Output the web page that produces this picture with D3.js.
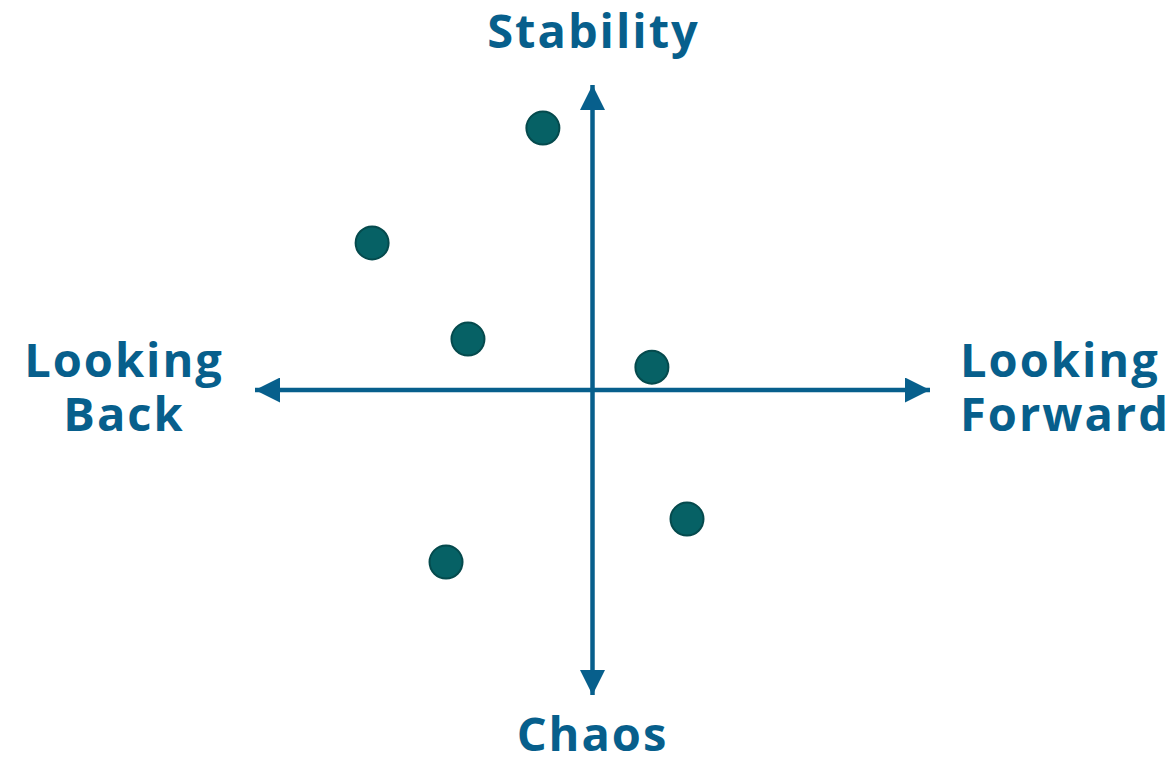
<!DOCTYPE html>
<html>
<head>
<meta charset="utf-8">
<script src="https://cdn.jsdelivr.net/npm/d3@7"></script>
<style>
  body { margin: 0; background: #fff; }
  svg text { font-family: "Open Sans", "Noto Sans", sans-serif; font-weight: 700; fill: #075f8c; letter-spacing: 2px; }
</style>
</head>
<body>
<script>
// point positions on the two axes, -1..1
const xVals = [-0.147, -0.653, -0.369, 0.176, 0.28, -0.434];
const yVals = [0.859, 0.482, 0.167, 0.075, -0.423, -0.564];

// axis end labels
const topLabel = "Stability";
const bottomLabel = "Chaos";
const leftLabel = ["Looking", "Back"];
const rightLabel = ["Looking", "Forward"];

const width = 1175, height = 758;
const axisColor = "#075f8c";

const svg = d3.select("body").append("svg")
    .attr("width", width)
    .attr("height", height);

// scales, center sits at the axes crossing
const x = d3.scaleLinear().domain([-1, 1]).range([255, 930]);
const y = d3.scaleLinear().domain([-1, 1]).range([695, 85]);

// arrowhead
svg.append("defs").append("marker")
    .attr("id", "arrow")
    .attr("viewBox", "0 0 10 10")
    .attr("refX", 10)
    .attr("refY", 5)
    .attr("markerUnits", "userSpaceOnUse")
    .attr("markerWidth", 31)
    .attr("markerHeight", 25)
    .attr("orient", "auto-start-reverse")
  .append("path")
    .attr("d", "M0,0 L10,5 L0,10 Z")
    .attr("fill", axisColor);

// horizontal axis
svg.append("line")
    .attr("x1", x(-1)).attr("x2", x(1))
    .attr("y1", y(0)).attr("y2", y(0))
    .attr("stroke", axisColor)
    .attr("stroke-width", 4.5)
    .attr("marker-start", "url(#arrow)")
    .attr("marker-end", "url(#arrow)");

// vertical axis
svg.append("line")
    .attr("x1", x(0)).attr("x2", x(0))
    .attr("y1", y(-1)).attr("y2", y(1))
    .attr("stroke", axisColor)
    .attr("stroke-width", 4.5)
    .attr("marker-start", "url(#arrow)")
    .attr("marker-end", "url(#arrow)");

// points
const pts = xVals.map((v, i) => ({x: v, y: yVals[i]}));
svg.selectAll("circle")
    .data(pts)
    .enter()
    .append("circle")
    .attr("cx", d => x(d.x))
    .attr("cy", d => y(d.y))
    .attr("r", 16.5)
    .attr("fill", "#066165")
    .attr("stroke", "#054a4d")
    .attr("stroke-width", 2);

// labels
const fs = 47;

function label(lines, px, py, anchor) {
  lines.forEach((t, i) => {
    svg.append("text")
      .attr("x", px)
      .attr("y", py + i * 54)
      .attr("text-anchor", anchor)
      .style("font-size", fs + "px")
      .text(t);
  });
}

label([topLabel], x(0) + 1, 48, "middle");
label([bottomLabel], x(0), 751, "middle");
label(leftLabel, 124, 377, "middle");
label(rightLabel, 960, 377, "start");
</script>
</body>
</html>
